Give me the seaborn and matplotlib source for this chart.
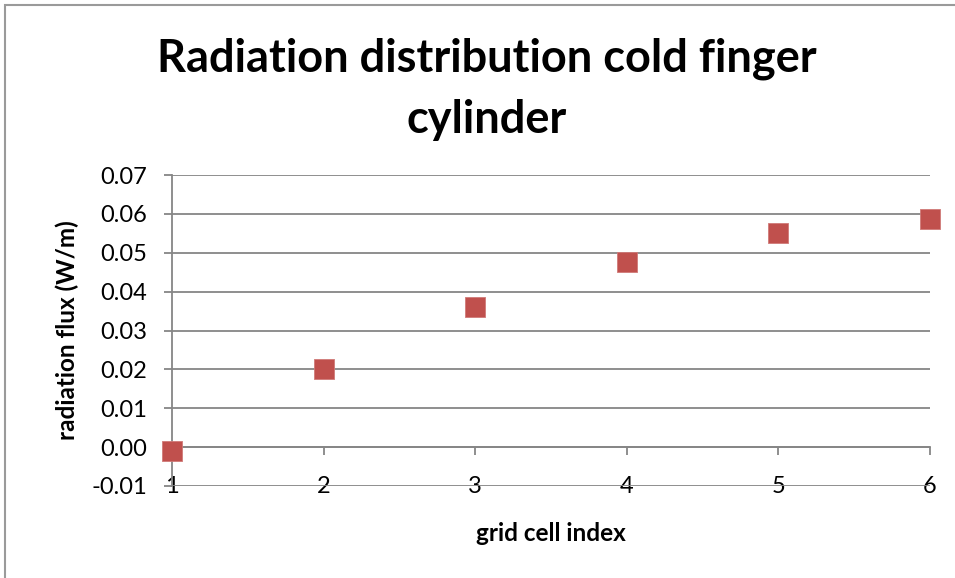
import matplotlib
matplotlib.use("Agg")
import matplotlib.pyplot as plt
import seaborn as sns
import pandas as pd
from matplotlib.patches import Rectangle

# values
cell_index = [1, 2, 3, 4, 5, 6]
radiation_flux = [-0.001, 0.020, 0.036, 0.0475, 0.0552, 0.0588]
y_ticks = [-0.01, 0.00, 0.01, 0.02, 0.03, 0.04, 0.05, 0.06, 0.07]
x_ticks = [1, 2, 3, 4, 5, 6]

df = pd.DataFrame({"grid cell index": cell_index, "radiation flux": radiation_flux})

sns.set_style("white")
plt.rcParams["font.family"] = ["Lato", "DejaVu Sans"]
plt.rcParams["text.color"] = "black"
plt.rcParams["axes.labelcolor"] = "black"
plt.rcParams["xtick.labelcolor"] = "black"
plt.rcParams["ytick.labelcolor"] = "black"

GRAY = "#868686"
RED = "#C0504D"

fig = plt.figure(figsize=(9.55, 5.78), dpi=100)
ax = fig.add_axes([0.1801, 0.1592, 0.7937, 0.5380])

sns.scatterplot(data=df, x="grid cell index", y="radiation flux", ax=ax,
                marker="s", s=210, color=RED, edgecolor="#d07a78",
                linewidth=0.6, clip_on=False, zorder=5)

ax.set_xlim(1, 6)
ax.set_ylim(-0.01, 0.07)
ax.set_yticks(y_ticks)
ax.set_yticklabels([f"{v:.2f}" for v in y_ticks])
ax.set_xticks(x_ticks)

# horizontal gridlines only
ax.yaxis.grid(True, color=GRAY, linewidth=1.3)
ax.xaxis.grid(False)
ax.set_axisbelow(True)

# excel-style: x axis crosses at zero, labels sit low
ax.spines["top"].set_visible(False)
ax.spines["right"].set_visible(False)
ax.spines["bottom"].set_position(("data", 0))
ax.spines["bottom"].set_color(GRAY)
ax.spines["bottom"].set_linewidth(1.3)
ax.spines["left"].set_color(GRAY)
ax.spines["left"].set_linewidth(1.3)

ax.tick_params(axis="y", direction="out", length=6, width=1.3, color=GRAY,
               labelsize=17, pad=12, left=True)
ax.tick_params(axis="x", direction="out", length=6, width=1.3, color=GRAY,
               labelsize=17, pad=15, bottom=True)

ax.set_xlabel("grid cell index", fontsize=17.5, fontweight="bold", labelpad=18)
ax.set_ylabel("radiation flux (W/m)", fontsize=17.5, fontweight="bold", labelpad=9)

fig.suptitle("Radiation distribution cold finger\ncylinder", fontsize=32.5,
             fontweight="bold", x=0.51, y=0.846, va="center", linespacing=1.55)

# chart area border (only top and left visible in the reference)
fig.add_artist(Rectangle((0.0052, -0.05), 1.2, 1.0413, transform=fig.transFigure,
                         fill=False, edgecolor="#9a9a9a", linewidth=1.5))

fig.savefig("out.png", dpi=100)
plt.close(fig)
